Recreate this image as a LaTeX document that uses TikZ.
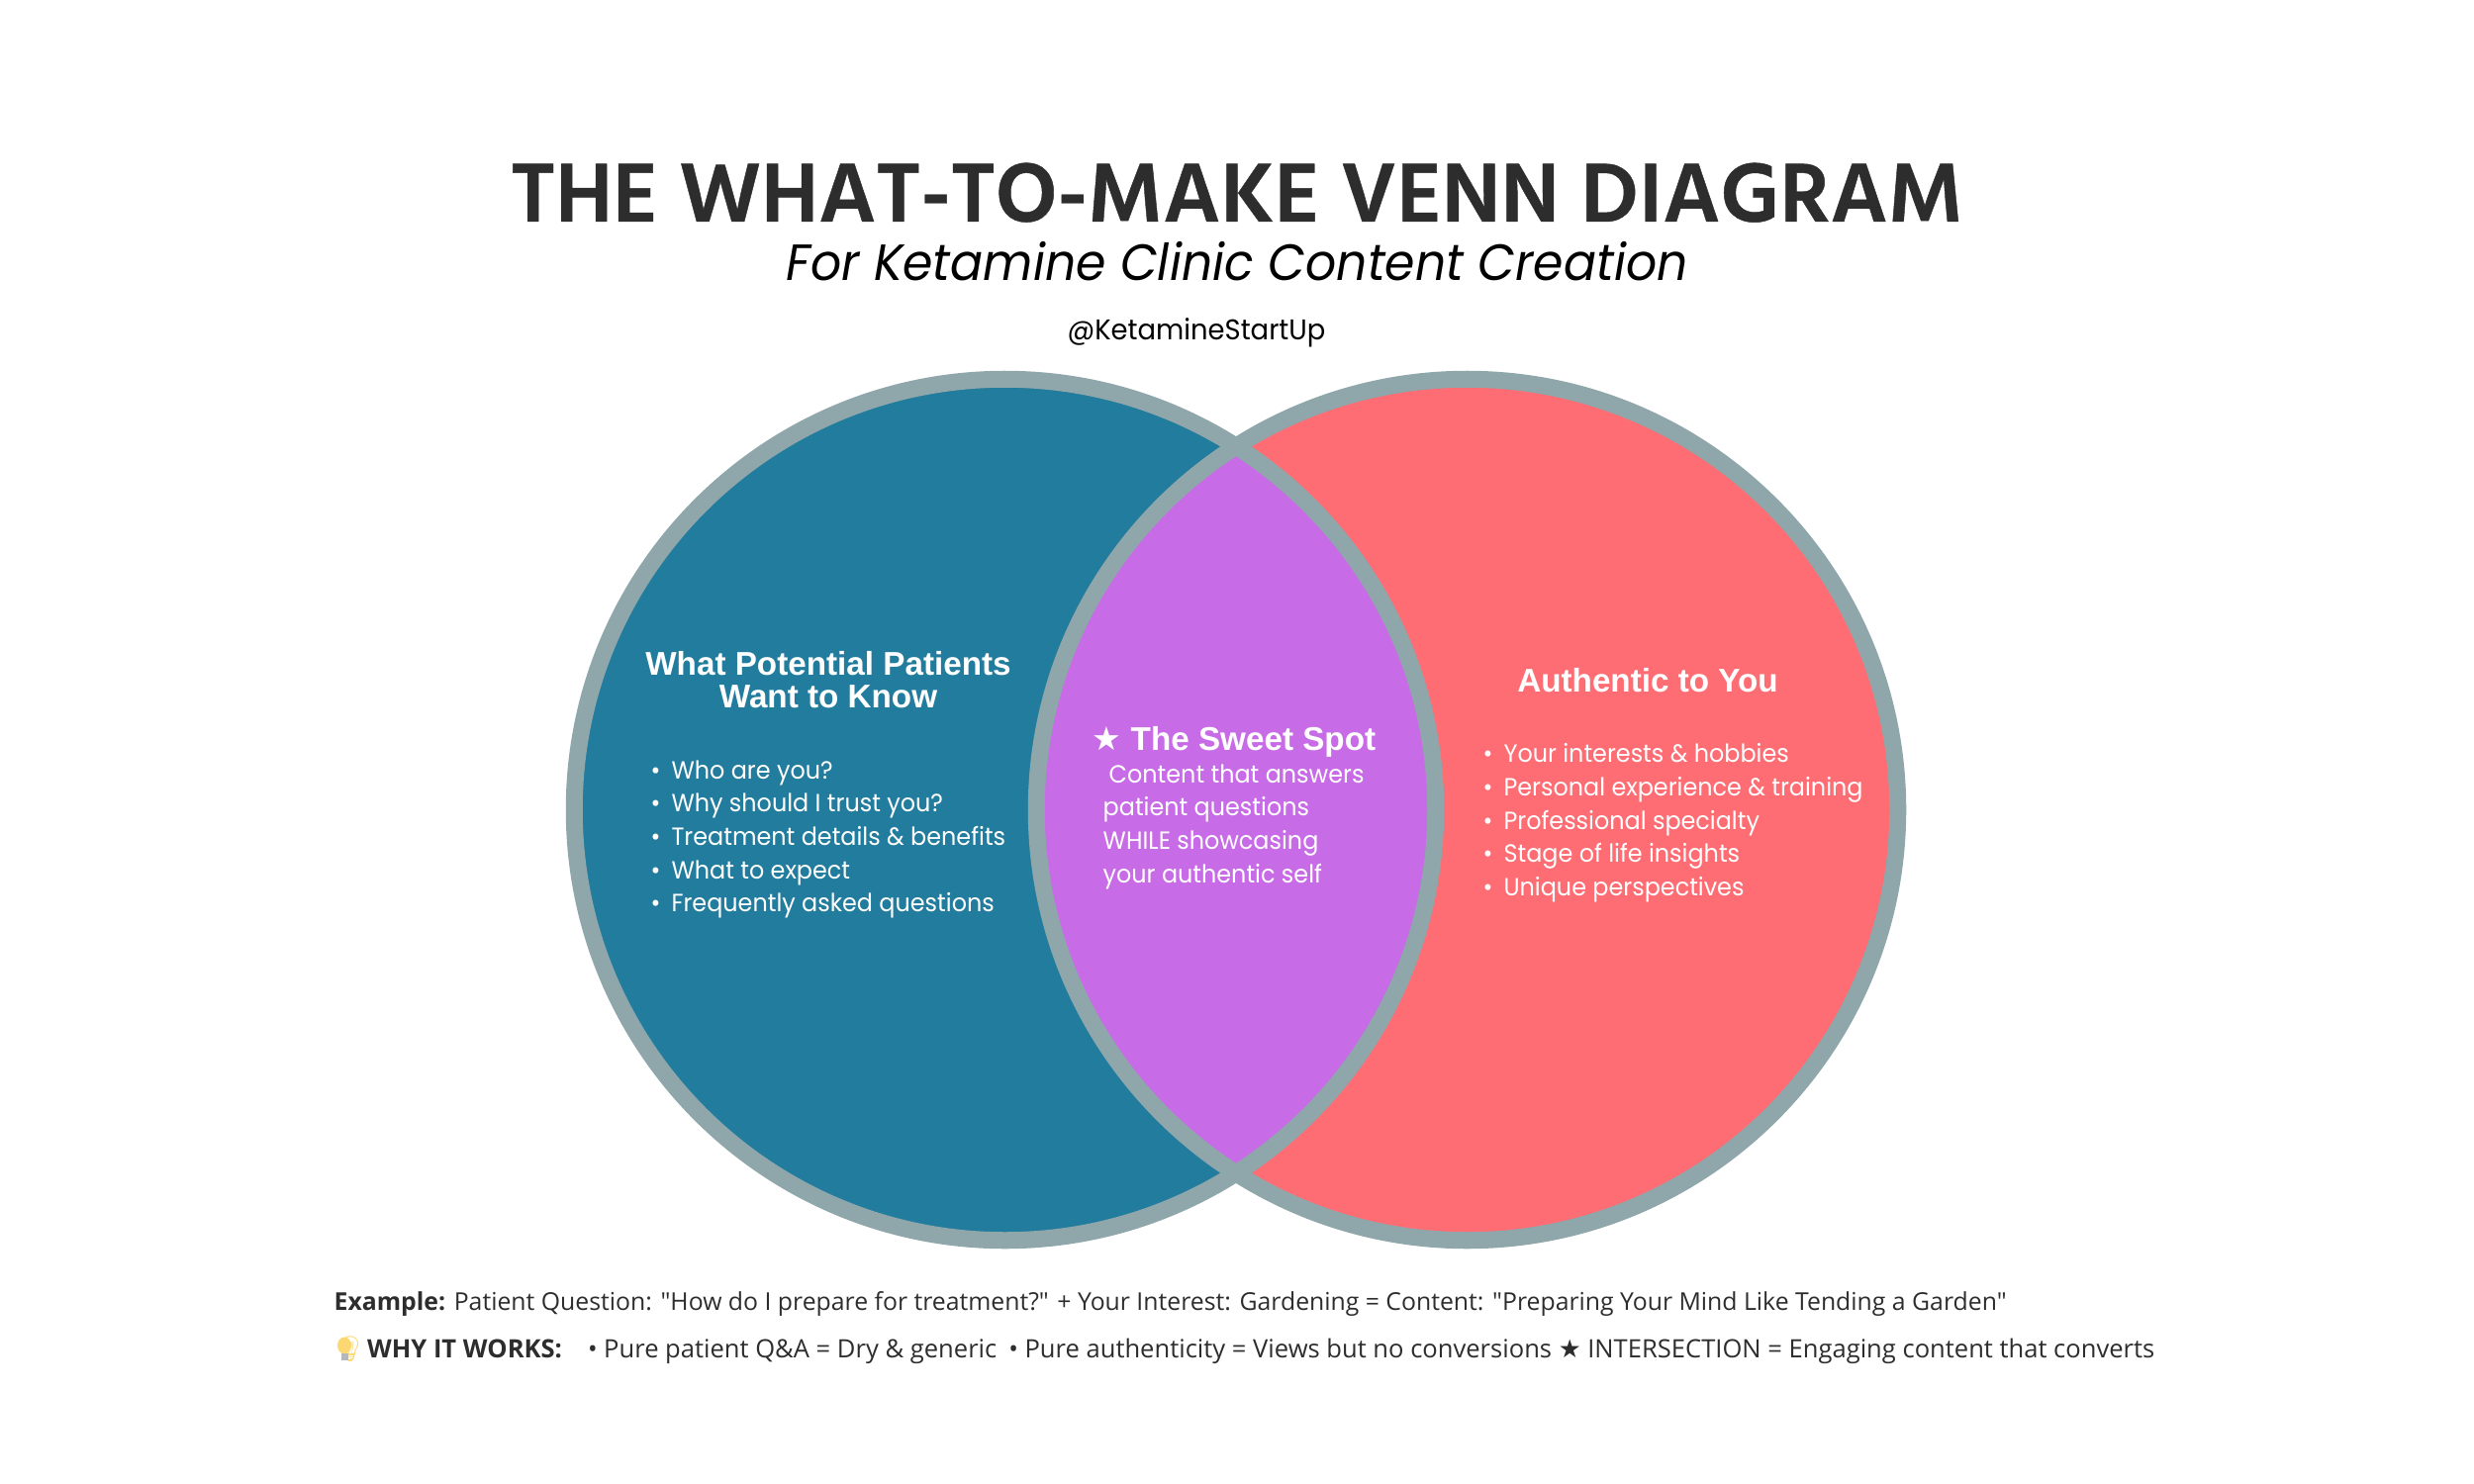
\documentclass[tikz,border=0pt]{standalone}
\usepackage{fontspec}
\setmainfont{Open Sans}
\newfontfamily\titlefont[FakeBold=0.5]{Hind Madurai}
\newfontfamily\subfont[FakeStretch=0.95]{Poppins}
\newfontfamily\headfont{Liberation Sans}
\newfontfamily\symfont{DejaVu Sans}
\newfontfamily\emojifont{Noto Emoji}
\usetikzlibrary{positioning}
\definecolor{askblue}{HTML}{227C9D}
\definecolor{ownred}{HTML}{FE6D73}
\definecolor{spotpurple}{HTML}{C86BE6}
\definecolor{ringgrey}{HTML}{8FA7AB}
\definecolor{inkgrey}{HTML}{2D2D2D}
\definecolor{bulbyellow}{HTML}{FBD872}
\definecolor{bulbbase}{HTML}{B4B8BE}
\newcommand{\bul}{\textbullet\hspace{1.1mm}}
\tikzset{
  ring/.style={draw=ringgrey, line width=0.17cm},
  title/.style={font=\titlefont\bfseries\fontsize{24.6}{28}\selectfont, text=inkgrey, anchor=base, inner sep=0pt, text depth=0pt},
  subtitle/.style={font=\subfont\itshape\fontsize{14.64}{20}\selectfont, text=black, anchor=base, inner sep=0pt, text height=3.4mm},
  handle/.style={font=\subfont\fontsize{8.2}{10}\selectfont, text=black, anchor=base, inner sep=0pt},
  head/.style={font=\headfont\bfseries\fontsize{9.45}{9.6}\selectfont, text=white, align=center, inner sep=0pt},
  list/.style={font=\subfont\fontsize{7.15}{9.55}\selectfont, text=white, align=left, inner sep=0pt},
  foot/.style={font=\fontsize{7.05}{9}\selectfont, text=inkgrey, anchor=base west, inner sep=0pt}
}
\begin{document}
\begin{tikzpicture}[x=0.01cm, y=-0.01cm]
    \useasboundingbox (0,0) rectangle (2500,1500);
    \coordinate (leftc) at (1015.5,818.5);
    \coordinate (rightc) at (1482.5,818.5);
    \fill[askblue] (leftc) circle [radius=4.35cm];
    \fill[ownred] (rightc) circle [radius=4.35cm];
    \begin{scope}
        \clip (leftc) circle [radius=4.35cm];
        \fill[spotpurple] (rightc) circle [radius=4.35cm];
    \end{scope}
    \draw[ring] (leftc) circle [radius=4.35cm];
    \draw[ring] (rightc) circle [radius=4.35cm];

    \node[title] (maintitle) at (1250,224) {THE WHAT-TO-MAKE VENN DIAGRAM};
    \node[subtitle] (subline) at (1250,283) {For Ketamine Clinic Content Creation};
    \node[handle] (account) at (1209,343) {@KetamineStartUp};

    \node[head] (askhead) at (837,687) {What Potential Patients\\Want to Know};
    \node[list, anchor=north west] (asklist) at (657,768) {\bul Who are you?\\\bul Why should I trust you?\\\bul Treatment details \& benefits\\\bul What to expect\\\bul Frequently asked questions};

    \node[head] (ownhead) at (1665,688) {Authentic to You};
    \node[list, anchor=north west] (ownlist) at (1498,751) {\bul Your interests \& hobbies\\\bul Personal experience \& training\\\bul Professional specialty\\\bul Stage of life insights\\\bul Unique perspectives};

    \node[head, anchor=base west] (spothead) at (1103,758) {{\symfont ★} The Sweet Spot};
    \node[list, anchor=north west] (spotlist) at (1114,772) {\hspace{0.6mm}Content that answers\\patient questions\\WHILE showcasing\\your authentic self};

    \fill[bulbyellow] (348,1360) ellipse [x radius=7, y radius=8.5];
    \node[foot] (example) at (337,1324) {\textbf{Example:} Patient Question: \textquotedbl How do I prepare for treatment?\textquotedbl{} + Your Interest: Gardening = Content: \textquotedbl Preparing Your Mind Like Tending a Garden\textquotedbl};
    \node[foot, font=\fontsize{7.27}{9}\selectfont] (whyworks) at (337,1372) {{\emojifont\color{bulbyellow}💡}\hspace{0.1mm}\textbf{WHY IT WORKS:}\hspace{2.6mm}• Pure patient Q\&A = Dry \& generic\hspace{1.2mm}• Pure authenticity = Views but no conversions {\symfont ★} INTERSECTION = Engaging content that converts};
    \fill[bulbbase] (344.5,1368) rectangle (351.5,1375);
\end{tikzpicture}
\end{document}
